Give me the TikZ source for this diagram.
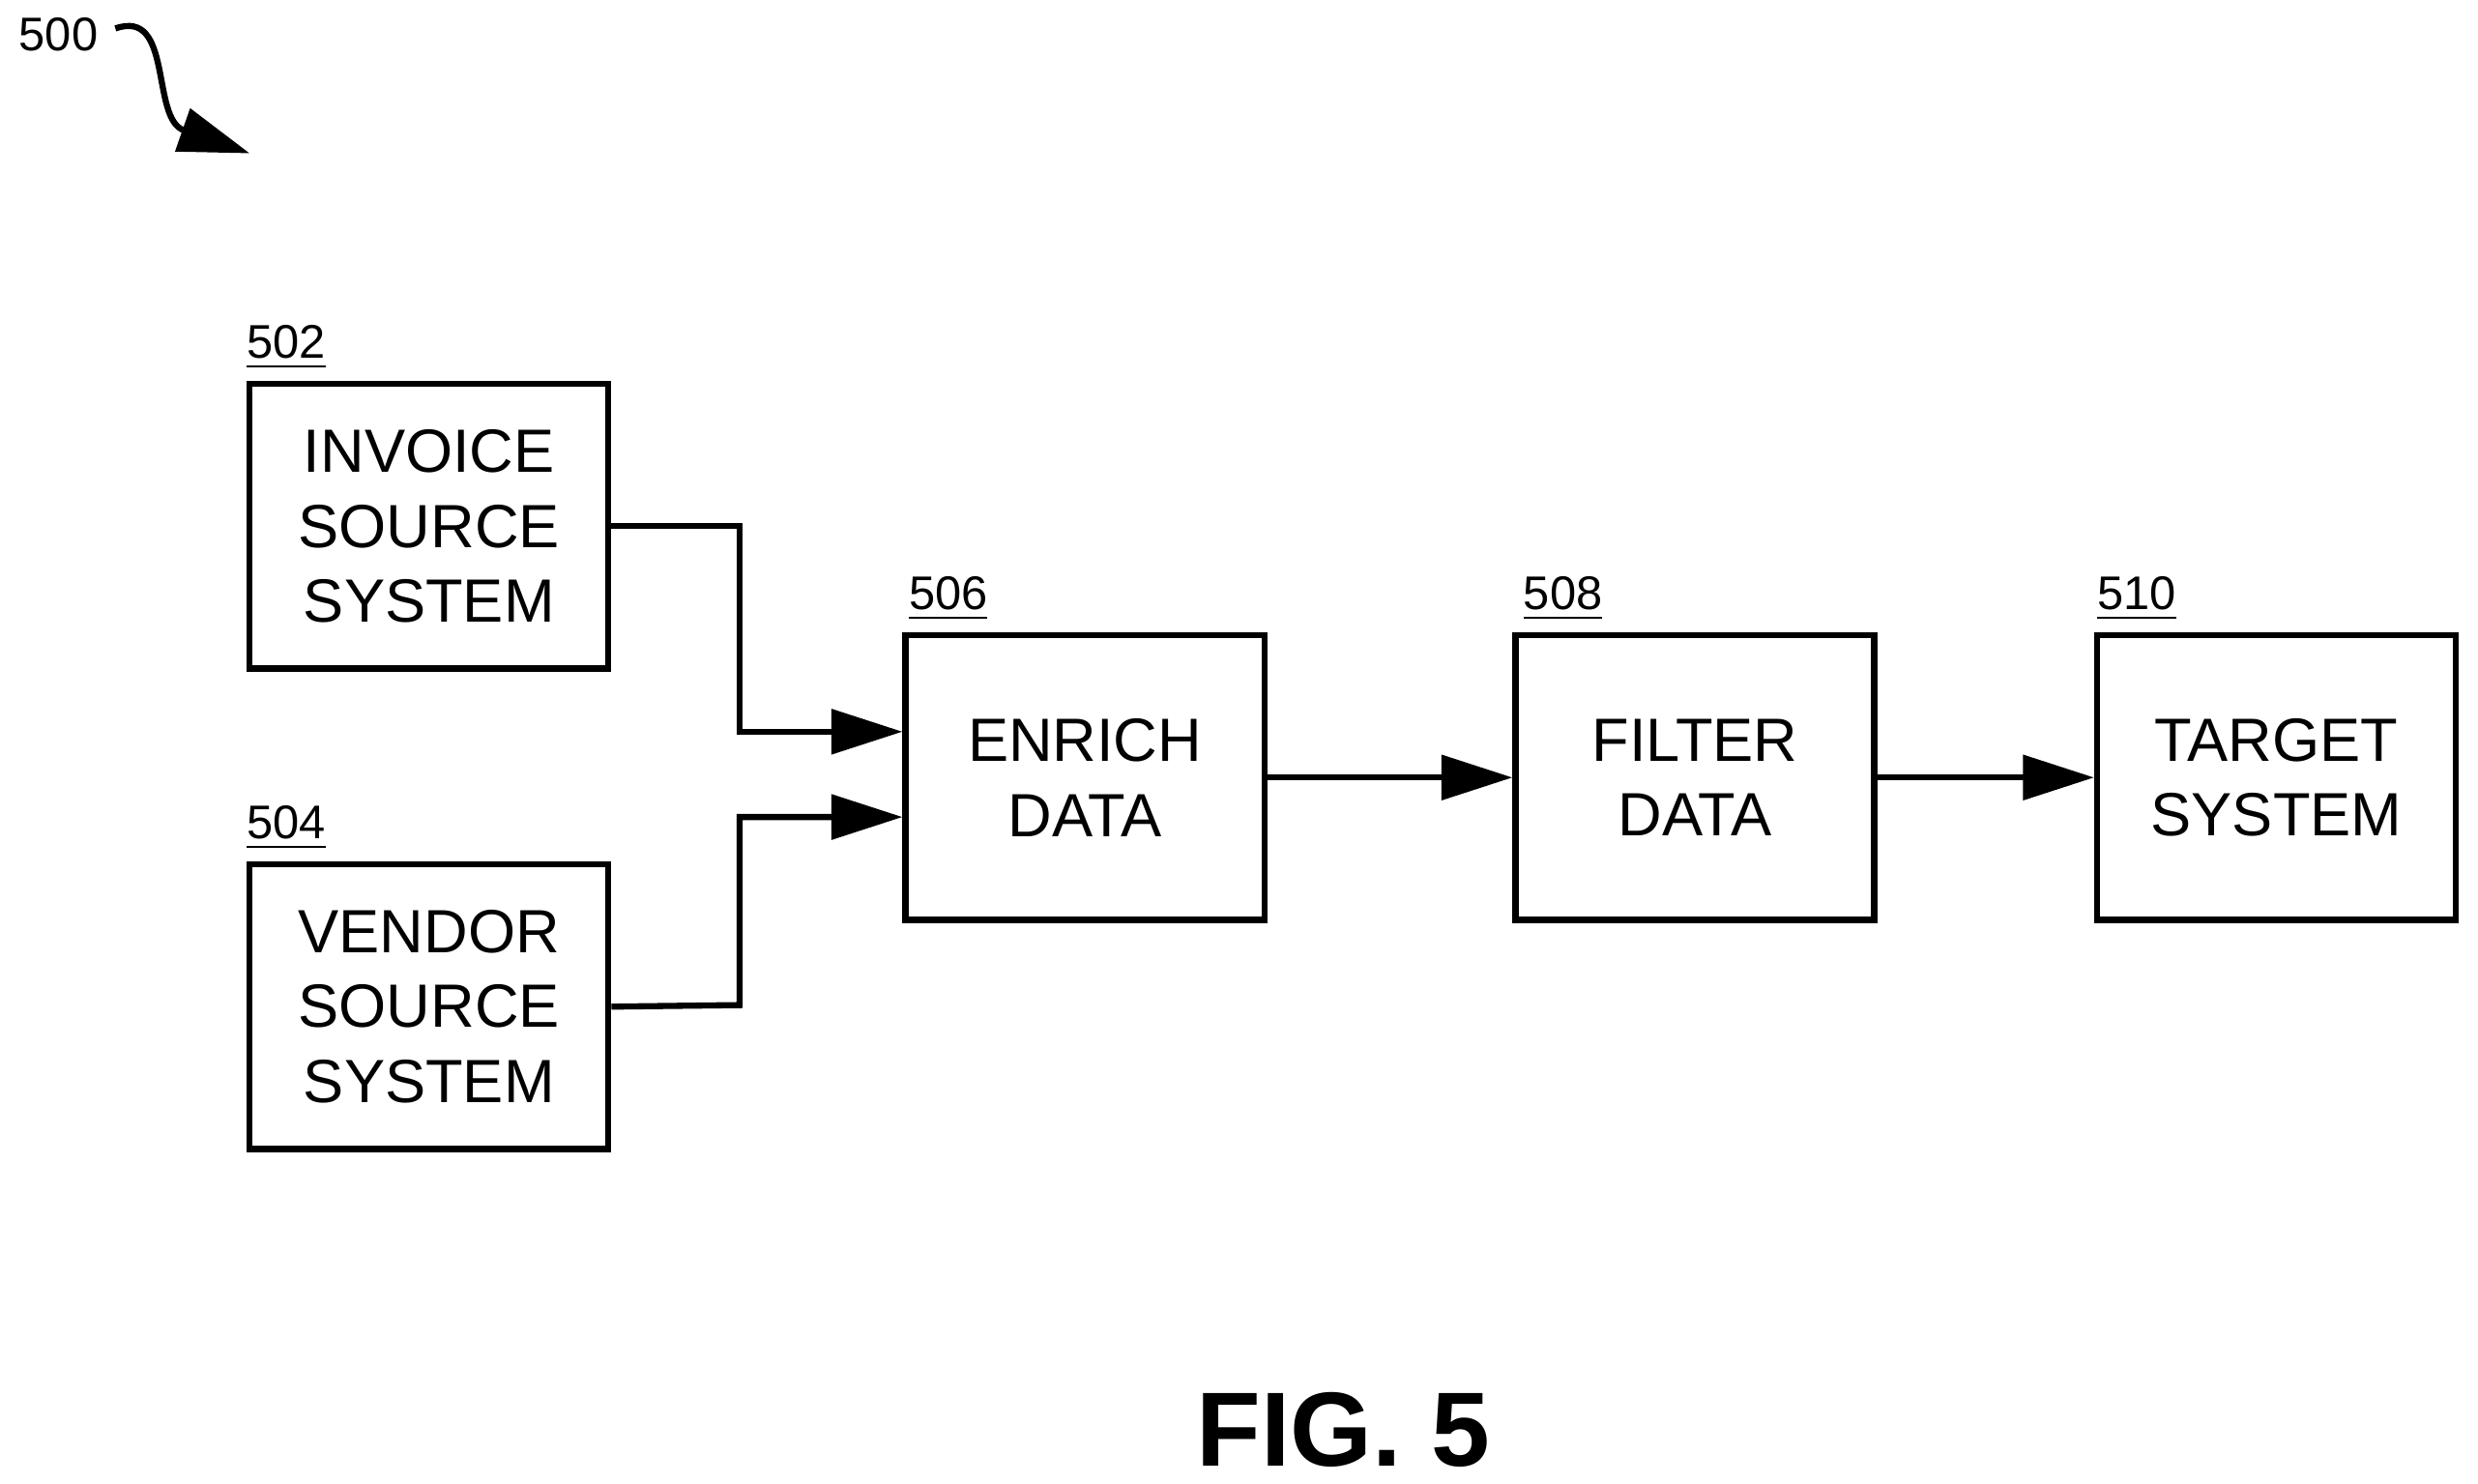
\documentclass[tikz,border=0pt]{standalone}
\usepackage{fontspec}
\setmainfont{Liberation Sans}
\usetikzlibrary{arrows.meta}
\begin{document}
\begin{tikzpicture}[x=0.1mm,y=-0.1mm,
 box/.style={draw,line width=1.1pt,minimum width=22.7mm,minimum height=18mm,align=center,font=\fontsize{11}{13.5}\selectfont,inner sep=0pt},
 lab/.style={font=\fontsize{8.5}{10}\selectfont,inner sep=0pt},
 conn/.style={line width=1.1pt,-{Triangle[length=4.5mm,width=2.8mm]}}]
\useasboundingbox (0,0) rectangle (1568,939);
\node[box] (a) at (271.5,333) {INVOICE\\SOURCE\\SYSTEM};
\node[box] (b) at (271.5,637) {VENDOR\\SOURCE\\SYSTEM};
\node[box] (c) at (686.5,492) {ENRICH\\DATA};
\node[box] (d) at (1072.5,492) {FILTER\\DATA};
\node[box] (e) at (1440.5,492) {TARGET\\SYSTEM};
\node[lab] (la) at (181,220) {\underline{502}};
\node[lab] (lb) at (181,524) {\underline{504}};
\node[lab] (lc) at (600,379) {\underline{506}};
\node[lab] (ld) at (989,379) {\underline{508}};
\node[lab] (le) at (1352,379) {\underline{510}};
\node[lab] (l0) at (37,22) {500};
\coordinate (ca) at (a.east|-0,333);
\draw[conn] (a.east) -- (468,333) -- (468,463) -- (c.west|-0,463);
\draw[conn] (b.east) -- (468,636) -- (468,517) -- (c.west|-0,517);
\draw[conn] (c) -- (d);
\draw[conn] (d) -- (e);
\coordinate (s) at (73,18);
\coordinate (t) at (158,97);
\draw[line width=1.1pt,-{Triangle[length=4.5mm,width=2.8mm]}] (s) .. controls (110,5) and (95,75) .. (t);
\node[font=\bfseries\fontsize{19}{22}\selectfont] (fig) at (850,905) {FIG. 5};
\end{tikzpicture}
\end{document}
